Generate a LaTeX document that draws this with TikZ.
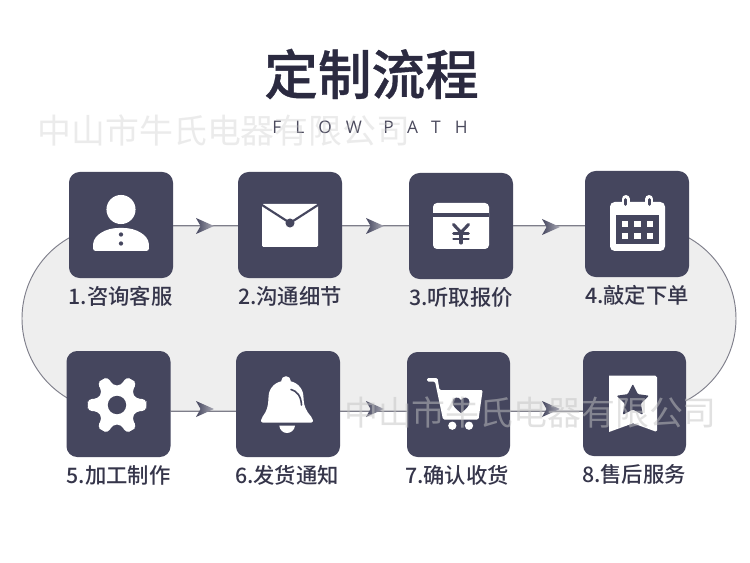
\documentclass[tikz,border=0pt]{standalone}
\usepackage{fontspec}
\setmainfont{Noto Sans CJK SC}
\newfontfamily\cjkmed{Noto Sans CJK SC Medium}
\newfontfamily\cjkttl[FakeBold=0.7]{Noto Sans CJK SC Medium}
\newfontfamily\latlite[LetterSpace=82]{Open Sans}
\definecolor{tile}{HTML}{45465E}
\definecolor{ink}{HTML}{2B2A40}
\definecolor{lab}{HTML}{35354A}
\definecolor{rim}{HTML}{7E7E8A}
\definecolor{pale}{HTML}{EEEEEE}
\definecolor{mark}{HTML}{C4C4C4}
\tikzset{
  tilebox/.style={fill=tile,rounded corners=8pt,inner sep=0pt,minimum width=78pt,minimum height=79.5pt,draw=none},
  tilelabel/.style={font=\cjkmed\fontsize{16pt}{18pt}\selectfont,text=lab,inner sep=0pt},
  link/.style={draw=rim,line width=.75pt},
  wm/.style={font=\fontsize{25.4pt}{28pt}\selectfont,text=mark,inner sep=0pt},
  ic/.style={fill=white,draw=none},
  icd/.style={fill=tile,draw=none},
  icl/.style={draw=tile,line cap=round,line join=round}
}
\newcommand{\flowtip}[2]{%
  \shade[left color=tile,right color=tile!45!white,shading angle=90]
    (#1,#2-8) -- (#1+18,#2) -- (#1,#2+8) -- (#1+4.5,#2) -- cycle;}
\begin{document}
\begin{tikzpicture}[x=.75pt,y=-.75pt]
\useasboundingbox[fill=white] (0,0) rectangle (750,563);
\draw[fill=pale,draw=rim,line width=.7pt,rounded corners=69.4pt] (22,226) rectangle (736,411);

\node[tilebox] (s1) at (121,225) {};
\node[tilebox] (s2) at (290,225) {};
\node[tilebox] (s3) at (461,226) {};
\node[tilebox] (s4) at (637,224) {};
\node[tilebox] (s5) at (118.5,404) {};
\node[tilebox] (s6) at (288,404) {};
\node[tilebox,minimum height=78.75pt,minimum width=77.25pt] (s7) at (458.5,404.5) {};
\node[tilebox,minimum height=78.75pt,minimum width=77.25pt] (s8) at (634.5,403.5) {};

\coordinate (rowa) at (0,226);
\coordinate (rowb) at (0,411);
\draw[link] (s1.east |- rowa) -- (s2.west |- rowa);
\draw[link] (s2.east |- rowa) -- (s3.west |- rowa);
\draw[link] (s3.east |- rowa) -- (s4.west |- rowa);
\draw[link] (s5.east |- rowb) -- (s6.west |- rowb);
\draw[link] (s6.east |- rowb) -- (s7.west |- rowb);
\draw[link] (s7.east |- rowb) -- (s8.west |- rowb);

\flowtip{196}{226}\flowtip{366}{226}\flowtip{542}{227}
\flowtip{196}{409}\flowtip{366}{409}\flowtip{542}{409}

% icon 1
\fill[ic] (121,209.5) circle[radius=10.9pt];
\fill[ic,rounded corners=2pt] (93,251) -- (93,246) .. controls (94,235) and (106,228) .. (121,228) .. controls (136,228) and (148,235) .. (149,246) -- (149,251) -- cycle;
\fill[icd] (121,234.5) circle[radius=1.6pt];
\fill[icd] (121,243.5) circle[radius=1.6pt];
% icon 2
\fill[ic,rounded corners=1pt] (262,204) rectangle (318,247);
\draw[icl,line width=1.6pt] (262,205) -- (290,223) -- (318,205);
\fill[icd] (290,223) circle[radius=3.4pt];
% icon 3
\fill[ic,rounded corners=3pt] (433,203) rectangle (489,249);
\fill[icd] (433,212.7) rectangle (489,217.3);
\draw[icl,line width=2.3pt] (453.5,224.5) -- (461,232.5) -- (468.5,224.5);
\draw[icl,line width=2.3pt] (461,232.5) -- (461,243);
\draw[icl,line width=2pt] (453.5,233.5) -- (468.5,233.5);
\draw[icl,line width=2pt] (453.5,239) -- (468.5,239);
% icon 4
\fill[ic,rounded corners=3.5pt] (610,202) rectangle (665,251);
\fill[icd] (615.7,215) rectangle (659.3,244);
\foreach \cx in {625.7,649.3}{
  \draw[white,line width=6pt,line cap=round] (\cx,199) -- (\cx,203);
  \draw[tile,line width=2pt,line cap=round] (\cx,199.5) -- (\cx,204.5);
}
\foreach \cx in {622,634.3,646.7}\foreach \cy in {221,232.7}{
  \fill[ic] (\cx,\cy) rectangle ++(6.3,6.2);
}
% icon 5
\coordinate (gc) at (117,405);
\fill[ic,rounded corners=3pt]
  ([shift={(gc)}]0:29.5)
  \foreach \a in {0,60,120,180,240,300}{
    -- ([shift={(gc)}]\a+12:29.5) -- ([shift={(gc)}]\a+18:20) -- ([shift={(gc)}]\a+42:20) -- ([shift={(gc)}]\a+48:29.5) -- ([shift={(gc)}]\a+60:29.5)
  } -- cycle;
\fill[icd] (gc) circle[radius=6.9pt];
% icon 6
\fill[ic] (286,381) circle[radius=3.6pt];
\fill[ic,rounded corners=1.5pt] (260.7,422.5) -- (261.5,418) .. controls (267,411) and (268,406) .. (268.5,398) .. controls (269,387) and (277,381) .. (286,381) .. controls (295,381) and (303,387) .. (303.5,398) .. controls (304,406) and (306,411) .. (312.5,418) -- (313.3,422.5) -- cycle;
\draw[icl,line width=1.2pt] (291,389.5) .. controls (297,391) and (301,396) .. (301.5,405);
\fill[ic] (279.3,425.7) -- (295,425.7) .. controls (294.5,430) and (291,433) .. (287,433) .. controls (283,433) and (279.8,430) .. (279.3,425.7) -- cycle;
% icon 7
\fill[ic,rounded corners=1pt] (427,378) -- (437.5,378) -- (439.5,390) -- (482.7,390) -- (478.5,419.5) -- (443,419.5) -- (435,381.5) -- (427,381.5) -- cycle;
\fill[ic] (452.3,425.7) circle[radius=3.1pt];
\fill[ic] (469,425.7) circle[radius=3.1pt];
\fill[icd] (461,413) .. controls (456,409) and (452.5,406) .. (452.5,402) .. controls (452.5,397) and (459,396) .. (461,400) .. controls (463,396) and (469.5,397) .. (469.5,402) .. controls (469.5,406) and (466,409) .. (461,413) -- cycle;
% icon 8
\fill[ic,rounded corners=1.2pt] (609,375.7) -- (657,375.7) -- (657,432) [sharp corners] -- (633,423.3) -- (609,432) -- cycle;
\fill[icd,rounded corners=.8pt]
  (632.8,384) -- (637.8,394.1) -- (649,395.7) -- (640.9,403.6) -- (642.8,414.8) -- (632.8,409.5) -- (622.8,414.8) -- (624.7,403.6) -- (616.6,395.7) -- (627.8,394.1) -- cycle;

% labels
\node[tilelabel] (l1) at (120.5,296) {1.咨询客服};
\node[tilelabel] (l2) at (290,296) {2.沟通细节};
\node[tilelabel] (l3) at (461,297) {3.听取报价};
\node[tilelabel] (l4) at (637,295) {4.敲定下单};
\node[tilelabel] (l5) at (118.5,475) {5.加工制作};
\node[tilelabel] (l6) at (287,475) {6.发货通知};
\node[tilelabel] (l7) at (457,475) {7.确认收货};
\node[tilelabel] (l8) at (634,474) {8.售后服务};

\node[font=\cjkttl\fontsize{40.2pt}{44pt}\selectfont,text=ink,inner sep=0pt] (title) at (371.5,74) {定制流程};
\node[font=\latlite\fontsize{13pt}{15pt}\selectfont,text=ink!85!white,inner sep=0pt] (sub) at (370,127) {FLOW\hspace{16pt}PATH};

\node[wm,text opacity=.33] (w1) at (224,130) {中山市牛氏电器有限公司};
\node[wm,text opacity=.5] (w2) at (530.5,412) {中山市牛氏电器有限公司};
\end{tikzpicture}
\end{document}
